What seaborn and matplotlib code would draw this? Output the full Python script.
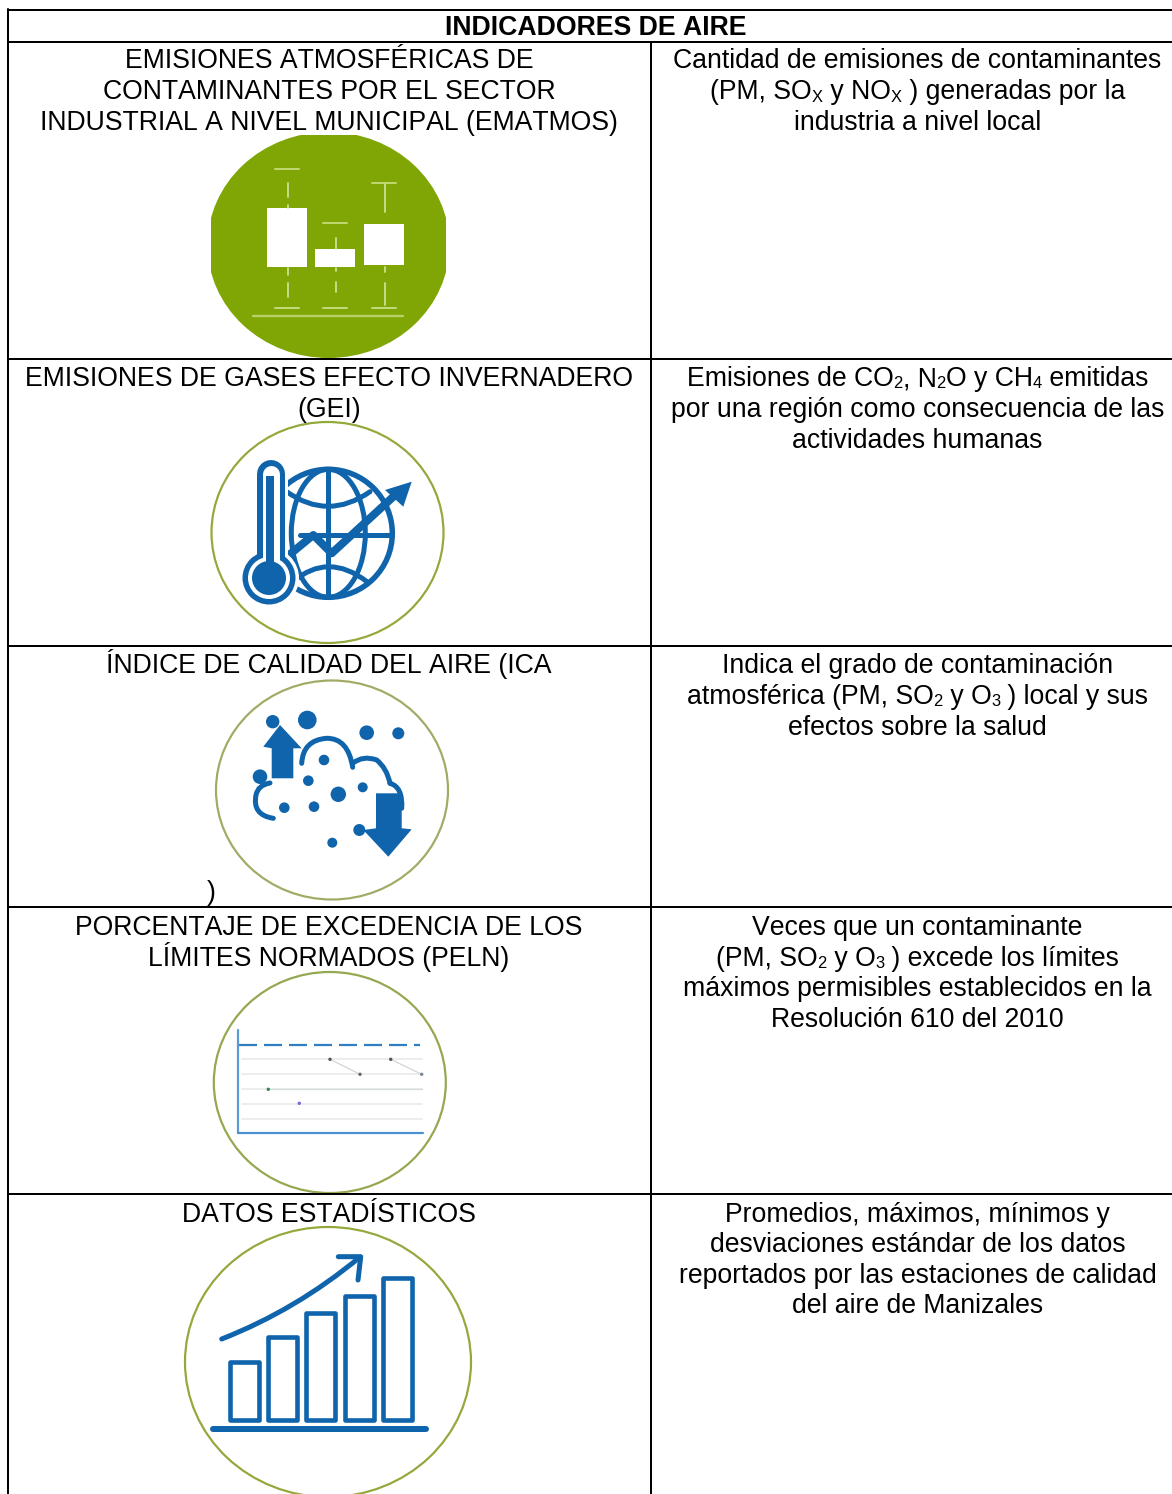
import re
import seaborn as sns
import matplotlib.pyplot as plt
from matplotlib.patches import Ellipse, Rectangle, Polygon, PathPatch
from matplotlib.path import Path

# -----------------------------------------
# Table text ("_X" means a small subscript X)
# -----------------------------------------

header = "INDICADORES DE AIRE"

left_cells = [
    ["EMISIONES ATMOSFÉRICAS DE", "CONTAMINANTES POR EL SECTOR",
     "INDUSTRIAL A NIVEL MUNICIPAL (EMATMOS)"],
    ["EMISIONES DE GASES EFECTO INVERNADERO", "(GEI)"],
    ["ÍNDICE DE CALIDAD DEL AIRE (ICA"],
    ["PORCENTAJE DE EXCEDENCIA DE LOS", "LÍMITES NORMADOS (PELN)"],
    ["DATOS ESTADÍSTICOS"],
]
right_cells = [
    ["Cantidad de emisiones de contaminantes",
     "(PM, SO_X y NO_X ) generadas por la", "industria a nivel local"],
    ["Emisiones de CO_2, N_2O y CH_4 emitidas",
     "por una región como consecuencia de las", "actividades humanas"],
    ["Indica el grado de contaminación",
     "atmosférica (PM, SO_2 y O_3 ) local y sus", "efectos sobre la salud"],
    ["Veces que un contaminante", "(PM, SO_2 y O_3 ) excede los límites",
     "máximos permisibles establecidos en la", "Resolución 610 del 2010"],
    ["Promedios, máximos, mínimos y", "desviaciones estándar de los datos",
     "reportados por las estaciones de calidad", "del aire de Manizales"],
]

row_lines = [41.5, 359, 646, 907, 1194]
first_baselines = [68, 386, 673, 935, 1222]
line_steps = [31, 31, 31, 30.6, 30.4]

# -----------------------------------------
# Icon contents
# -----------------------------------------

# box plot icon
box_x = [287, 335, 383.5]
box_low = [267, 267, 265]
box_high = [208, 249, 224]
cap_top = [169.3, 223.3, 182.7]
cap_bottom = [308.3, 308.3, 307.7]
whisker_parts = [
    [(183.3, 196.7), (205, 208), (268, 275), (283.3, 296.7)],
    [(238.3, 249), (267.7, 271), (281.7, 291.7)],
    [(184.3, 212.3), (266.7, 271.7), (283.3, 305)],
]

# air quality dots
dot_x = [272.7, 307.3, 366.7, 398.3, 260, 324, 308.3, 338.3, 362.7, 284.3, 314, 359.3, 332.3]
dot_y = [721.7, 720, 732.7, 733.3, 776.7, 760, 780.7, 794.3, 787.3, 807.7, 806.7, 830, 842.7]
dot_d = [13.4, 18.6, 14.6, 12, 14.6, 10.6, 10.6, 15.4, 10, 10.6, 10.6, 12, 10]

# exceedance icon
limit_y = [1059.3, 1074.3, 1089.3, 1104, 1119]
peln_points_x = [330, 360, 390.7, 421.7, 268.3, 299.3]
peln_points_y = [1059.3, 1074.3, 1059.3, 1074.3, 1089.3, 1103.3]
peln_points_c = ["#555555", "#666666", "#555555", "#778899", "#2e8b57", "#7a6ad0"]

# statistics bars
bar_names = ["a", "b", "c", "d", "e"]
bar_heights = [58, 83, 107, 124, 142]

# -----------------------------------------
# Styling
# -----------------------------------------

sns.set_theme(style="white")
plt.rcParams["font.family"] = ["Liberation Sans", "DejaVu Sans"]
plt.rcParams["text.kerning_factor"] = 12  # the source text has no kerning

BLUE = "#0f64ab"
GREEN = "#7fa605"
RING = "#93a93c"
FONT = 19.2
PT = 0.72  # px -> pt at dpi 100

fig = plt.figure(figsize=(11.72, 14.94), dpi=100, facecolor="white")
ax = fig.add_axes([0, 0, 1, 1])
ax.set_xlim(0, 1172)
ax.set_ylim(1494, 0)
ax.axis("off")
renderer = fig.canvas.get_renderer()


def run_width(s, size, weight="normal"):
    t = ax.text(0, 0, s + "|", fontsize=size, fontweight=weight)
    w = t.get_window_extent(renderer).width
    t.set_text("|")
    w -= t.get_window_extent(renderer).width
    t.remove()
    return w


def draw_line(s, cx, y, weight="normal"):
    # split into normal and subscript runs, then centre the whole line
    parts = re.split(r"_(\w)", s)
    runs = [(p, i % 2 == 1) for i, p in enumerate(parts) if p]
    widths = [run_width(p, FONT * 0.62 if sub else FONT, weight) for p, sub in runs]
    x = cx - sum(widths) / 2
    for (p, sub), w in zip(runs, widths):
        ax.text(x, y + (2.5 if sub else 0), p, fontsize=FONT * 0.62 if sub else FONT,
                fontweight=weight, color="black", ha="left", va="baseline")
        x += w


def ring(cx, cy, rx, ry, color=RING):
    e = Ellipse((cx, cy), 2 * rx, 2 * ry, facecolor="white", edgecolor=color, lw=2.2 * PT)
    ax.add_patch(e)
    return e


def curve(points, lw, color=BLUE, zorder=2):
    # chain of quadratic pieces: start, ctrl, end, ctrl, end...
    codes = [Path.MOVETO] + [Path.CURVE3] * (len(points) - 1)
    ax.add_patch(PathPatch(Path(points, codes), fill=False, edgecolor=color,
                           lw=lw * PT, capstyle="round", zorder=zorder))


def line(xs, ys, lw, color=BLUE, **kws):
    sns.lineplot(x=xs, y=ys, sort=False, estimator=None, color=color,
                 linewidth=lw * PT, ax=ax, legend=False, **kws)


# -----------------------------------------
# Icon 1: green circle with box plot
# -----------------------------------------

green = Ellipse((328.5, 245), 242, 226, color=GREEN, lw=0)
ax.add_patch(green)
green.set_clip_path(Rectangle((211, 135), 235, 223, transform=ax.transData))

for x, low, high in zip(box_x, box_low, box_high):
    ax.bar(x, low - high, width=40, bottom=high, color="white", lw=0)
for x, top, bottom, parts in zip(box_x, cap_top, cap_bottom, whisker_parts):
    ax.plot([x - 12, x + 12], [top, top], color="#bfd56e", lw=2 * PT)
    ax.plot([x - 12, x + 12], [bottom, bottom], color="#c4d97a", lw=2 * PT)
    for y0, y1 in parts:
        ax.plot([x + 1, x + 1], [y0, y1], color="#cfe08f", lw=1.8 * PT)
ax.plot([253.3, 403.3], [315.7, 315.7], color="#b9d164", lw=2.4 * PT)

# -----------------------------------------
# Icon 2: thermometer and globe
# -----------------------------------------

ring(327.5, 532.5, 116, 110.5)
ax.add_patch(Ellipse((328.3, 533.3), 128, 128, fill=False, edgecolor=BLUE, lw=5.5 * PT))
ax.add_patch(Ellipse((328.3, 533.3), 74, 128, fill=False, edgecolor=BLUE, lw=5 * PT))
line([328.3, 328.3], [470, 597], 5)
line([300, 391], [535, 535], 5)
curve([(286.7, 491.7), (328, 521), (370, 491.7)], 5)
curve([(293, 581.7), (328, 551.7), (367, 581.7)], 5)

# arrow across the globe
line([285, 313.3, 331.7, 393.3], [558.3, 535, 553.3, 496.7], 8)
ax.add_patch(Polygon([(411.7, 481.7), (385, 490), (403.3, 506.7)], color=BLUE, lw=0, zorder=2))

# thermometer, drawn over a white halo
ax.plot([270.7, 270.7], [474, 560], color="white", lw=33 * PT, solid_capstyle="round", zorder=3)
ax.add_patch(Ellipse((269, 578), 60, 60, color="white", lw=0, zorder=3))
ax.plot([270.7, 270.7], [474, 560], color=BLUE, lw=28 * PT, solid_capstyle="round", zorder=4)
ax.add_patch(Ellipse((269, 578), 53, 53, color=BLUE, lw=0, zorder=4))
ax.plot([270.7, 270.7], [474, 560], color="white", lw=17 * PT, solid_capstyle="round", zorder=5)
ax.add_patch(Ellipse((269, 578), 42, 42, color="white", lw=0, zorder=5))
ax.plot([270, 270], [476, 568], color=BLUE, lw=8 * PT, solid_capstyle="butt", zorder=6)
ax.add_patch(Ellipse((269, 578), 34, 34, color=BLUE, lw=0, zorder=6))

# -----------------------------------------
# Icon 3: air quality cloud
# -----------------------------------------

ring(332, 790, 116, 109.5, color="#a3aa66")
curve([(273.3, 818.3), (252, 815), (256, 795), (258, 785), (270, 783)], 5)
curve([(301.7, 763.3), (303, 740), (326.7, 738.3), (348, 738), (352.7, 767.3)], 5)
curve([(352.7, 763.3), (363, 755), (376.7, 760), (386.7, 768), (390, 783.3)], 5)
curve([(390, 783.3), (403, 787), (401.7, 808.3)], 5)
ax.add_patch(Polygon([(280, 725), (301.7, 748.3), (293.3, 748.3), (293.3, 778.3),
                      (271.7, 778.3), (271.7, 748.3), (263.3, 746.7)], color=BLUE, lw=0, zorder=2))
ax.add_patch(Polygon([(376, 793.3), (401.7, 793.3), (401.7, 828.3), (411.7, 829.3),
                      (388.3, 856.7), (363.3, 830), (376, 828.3)], color=BLUE, lw=0, zorder=2))
sns.scatterplot(x=dot_x, y=dot_y, s=[(d * PT) ** 2 for d in dot_d], color=BLUE,
                linewidth=0, ax=ax, legend=False, zorder=3)
ax.text(207, 900, ")", fontsize=FONT, color="black", ha="left", va="baseline")

# -----------------------------------------
# Icon 4: exceedance chart
# -----------------------------------------

ring(329.8, 1082.5, 116, 110.5, color="#94a850")
for y in limit_y:
    ax.plot([242, 422], [y, y], color="#eaecec", lw=1.8 * PT)
ax.plot([268.3, 422], [1089.3, 1089.3], color="#d6dcdc", lw=1.2 * PT)
ax.plot([330, 360], [1059.3, 1074.3], color="#d0d4d4", lw=1.2 * PT)
ax.plot([390.7, 421.7], [1059.3, 1074.3], color="#d0d4d4", lw=1.2 * PT)
sns.scatterplot(x=peln_points_x, y=peln_points_y, hue=peln_points_x,
                palette=dict(zip(peln_points_x, peln_points_c)), s=6, linewidth=0,
                ax=ax, legend=False, zorder=3)
ax.plot([238.5, 420], [1045, 1045], color="#2f7fc1", lw=2.2 * PT,
        dashes=(18 / 2.2, 7 / 2.2))
ax.plot([238.3, 238.3], [1030, 1133], color="#5a9bd5", lw=2.2 * PT)
ax.plot([238.3, 423], [1133, 1133], color="#4a90d0", lw=2.2 * PT)

# -----------------------------------------
# Icon 5: growing bars
# -----------------------------------------

stats_ring = ring(328, 1362, 143, 135)
ax_bars = fig.add_axes([225.4 / 1172, 1 - 1420 / 1494, 191 / 1172, 160 / 1494])
sns.barplot(x=bar_names, y=bar_heights, color=BLUE, fill=False, linewidth=4.6 * PT,
            width=0.76, ax=ax_bars)
ax_bars.set_ylim(0, 160)
ax_bars.set_xlim(-0.5, 4.5)
ax_bars.axis("off")
for p in ax_bars.patches:
    p.set_clip_on(False)
    p.set_joinstyle("round")

ax.plot([213, 426], [1429.3, 1429.3], color=BLUE, lw=6 * PT, solid_capstyle="round")
curve([(221.7, 1339), (296, 1310), (360, 1257)], 5)
line([338.3, 360.7, 358], [1256.7, 1256.7, 1280], 5)

# -----------------------------------------
# Table grid and text
# -----------------------------------------

ax.plot([8, 1172], [10, 10], color="black", lw=2 * PT)
for y in row_lines:
    ax.plot([8, 1172], [y, y], color="black", lw=2 * PT)
ax.plot([8, 8], [9, 1494], color="black", lw=2 * PT)
ax.plot([651, 651], [41.5, 1494], color="black", lw=2 * PT)

draw_line(header, 596, 35, weight="bold")
for lines_l, lines_r, y0, step in zip(left_cells, right_cells, first_baselines, line_steps):
    for i, s in enumerate(lines_l):
        draw_line(s, 329, y0 + i * step)
    for i, s in enumerate(lines_r):
        draw_line(s, 917.5, y0 + i * step)

ax.set_xlim(0, 1172)
ax.set_ylim(1494, 0)

plt.savefig("out.png", dpi=100)
